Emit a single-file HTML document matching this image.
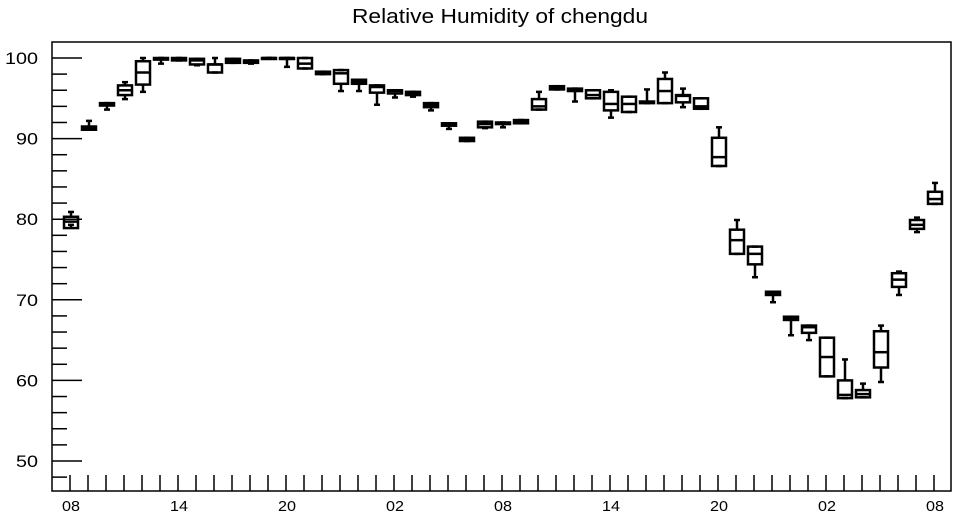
<!DOCTYPE html>
<html><head><meta charset="utf-8"><style>
body{margin:0;background:#fff;font-family:"Liberation Sans",sans-serif}
svg{display:block}
</style></head><body>
<svg id="chart" width="957" height="520" xmlns="http://www.w3.org/2000/svg">
<text x="500" y="23" font-size="20" text-anchor="middle" textLength="296" lengthAdjust="spacingAndGlyphs" font-family="Liberation Sans, sans-serif">Relative Humidity of chengdu</text>
<rect x="52" y="42" width="899" height="449" fill="none" stroke="#000" stroke-width="1.5"/>
<g id="axes"></g>
<g id="boxes"></g>
</svg>
<script>
const hours = ["08","09","10","11","12","13","14","15","16","17","18","19","20","21","22","23","00","01","02","03","04","05","06","07","08","09","10","11","12","13","14","15","16","17","18","19","20","21","22","23","00","01","02","03","04","05","06","07","08"];
const mins = [79.3,91.1,93.6,94.9,95.8,99.3,99.7,99.1,98.2,99.4,99.3,100,98.9,98.7,98,95.9,95.9,94.2,95.1,95.2,93.5,91.2,89.7,91.3,91.4,91.9,93.6,96.1,94.6,95,92.6,93.3,94.4,94.4,93.9,93.7,86.6,75.7,72.8,69.7,65.6,65,60.5,57.8,57.9,59.8,70.6,78.4,81.9];
const q1s = [78.9,91.1,94.1,95.4,96.7,99.8,99.7,99.2,98.2,99.4,99.4,100,100,98.7,98,96.8,96.8,95.7,95.6,95.4,93.9,91.6,89.7,91.4,91.8,91.9,93.6,96.1,95.9,95,93.5,93.3,94.4,94.4,94.5,93.7,86.6,75.7,74.4,70.6,67.5,65.9,60.5,57.8,57.9,61.6,71.6,78.8,81.9];
const medians = [79.7,91.3,94.2,96,98.2,99.9,99.9,99.7,99.2,99.6,99.5,100,100,99.3,98.2,98.1,97,96.4,95.9,95.6,94.2,91.8,89.9,91.8,91.9,92.1,94,96.3,96,95.4,94.3,94.3,94.5,95.9,95.3,94,87.7,77.4,75.7,70.8,67.7,66.6,62.9,58.2,58.3,63.5,72.5,79.3,82.5];
const q3s = [80.3,91.5,94.4,96.6,99.6,100,100,99.9,99.2,99.9,99.7,100,100,100,98.3,98.5,97.3,96.6,96,95.8,94.4,91.9,90.1,92.1,92,92.3,94.9,96.5,96.2,96,95.8,95.2,94.6,97.4,95.4,95,90.1,78.7,76.6,71,67.9,66.8,65.3,60,58.8,66.1,73.3,79.9,83.4];
const maxs = [80.9,92.2,94.4,97,100,100,100,99.9,100,99.9,99.7,100,100,100,98.3,98.5,97.3,96.6,96,95.8,94.4,91.9,90.1,92.1,92,92.3,95.8,96.5,96.2,96,96,95.2,96.1,98.2,96.2,95,91.4,79.9,76.6,71,67.9,66.8,65.3,62.6,59.6,66.8,73.5,80.2,84.5];
const yTicks = [50,60,70,80,90,100];

const NS="http://www.w3.org/2000/svg";
function X(i){return 70+18*i;}
function Y(v){return 58+(100-v)*8.06;}
function mk(tag,attrs,parent){const e=document.createElementNS(NS,tag);for(const k in attrs)e.setAttribute(k,attrs[k]);parent.appendChild(e);return e;}
const axes=document.getElementById('axes');
const boxes=document.getElementById('boxes');
for(let v=48; v<=102; v+=2){
  const y=Y(v); if(y<43||y>490) continue;
  const major=v%10===0;
  const t=mk('line',{x1:52,x2:major?82:67,y1:y,y2:y,stroke:'#000','stroke-width':1.5},axes);
  
  
}
yTicks.forEach(v=>{
  const s=String(v);
  const t=mk('text',{x:38,y:Y(v)+6,'font-size':17,'text-anchor':'end',textLength:s.length*11,lengthAdjust:'spacingAndGlyphs'},axes);
  t.textContent=s;
  
  
});
hours.forEach((h,i)=>{
  const x=X(i);
  const t=mk('line',{x1:x,x2:x,y1:475,y2:491,stroke:'#000','stroke-width':1.5},axes);
  
  
  if(i%6===0){
    const l=mk('text',{x:x+1,y:511,'font-size':15,'text-anchor':'middle',textLength:18,lengthAdjust:'spacingAndGlyphs'},axes);
    l.textContent=h;
    
    
  }
});
hours.forEach((h,i)=>{
  const cx=X(i)+1;
  const g=mk('g',{stroke:'#000','stroke-width':2.5,fill:'none'},boxes);
  
  
  const yMax=Y(maxs[i]),yMin=Y(mins[i]),yq1=Y(q1s[i]),yq3=Y(q3s[i]),ym=Y(medians[i]);
  mk('line',{x1:cx,x2:cx,y1:yMax,y2:yq3},g);
  mk('line',{x1:cx,x2:cx,y1:yq1,y2:yMin},g);
  mk('line',{x1:cx-3,x2:cx+3,y1:yMax,y2:yMax},g);
  mk('line',{x1:cx-3,x2:cx+3,y1:yMin,y2:yMin},g);
  mk('rect',{x:cx-7,y:yq3,width:14,height:Math.max(yq1-yq3,1)},g);
  mk('line',{x1:cx-7,x2:cx+7,y1:ym,y2:ym},g);
});
</script>
</body></html>
